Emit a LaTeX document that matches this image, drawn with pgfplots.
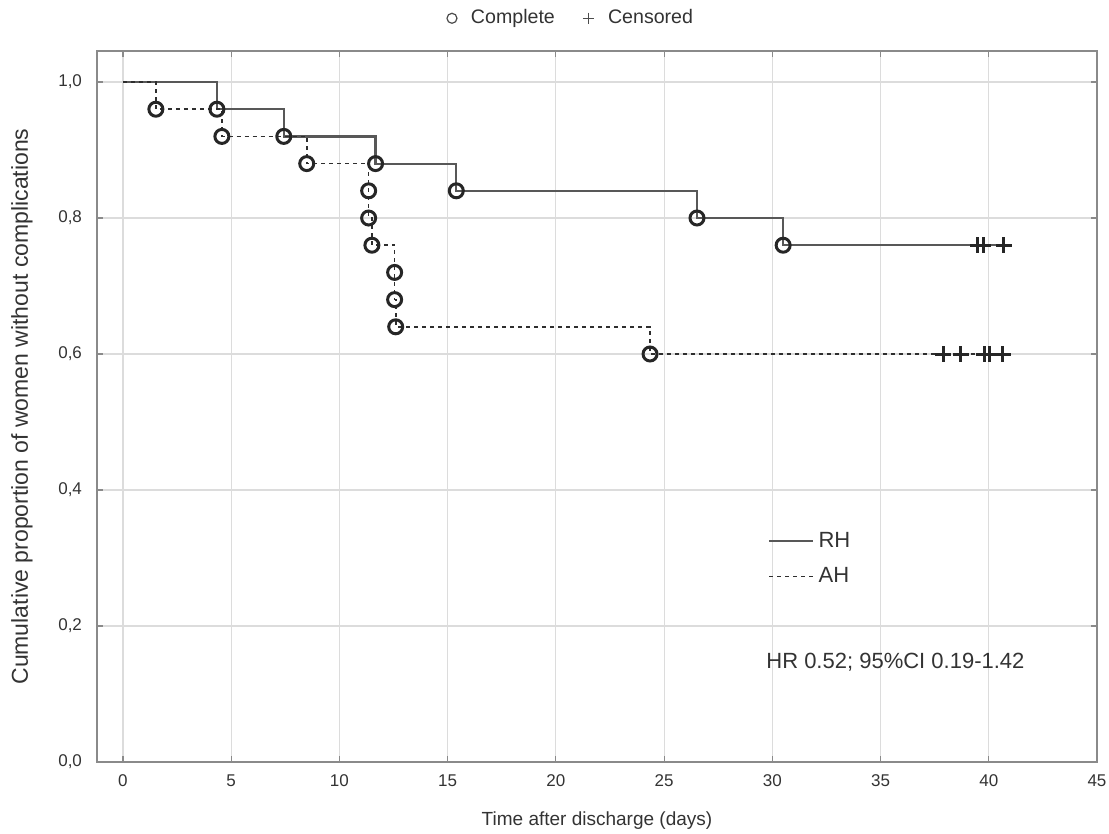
\documentclass[border=0pt]{standalone}
\usepackage{fontspec}
\setmainfont{Liberation Sans}
\usepackage{pgfplots}
\pgfplotsset{compat=1.18}
\usetikzlibrary{calc}

\definecolor{txt}{HTML}{333333}
\definecolor{frame}{HTML}{8A8A8A}
\definecolor{gridc}{HTML}{DCDCDC}
\definecolor{ln}{HTML}{2E2E2E}

\begin{document}
\begin{tikzpicture}
\begin{axis}[
  name=main,
  width=500pt, height=355.5pt, scale only axis,
  xmin=-1.2, xmax=45, ymin=0, ymax=1.0456,
  xtick={0,5,...,45}, ytick={0,0.2,...,1.0},
  grid=major, major grid style={gridc, line width=0.6pt},
  axis line style={frame, line width=1pt},
  tick style={frame, line width=0.6pt}, major tick length=3pt,
  tick align=inside,
  /pgf/number format/assume math mode=true,
  yticklabel style={xshift=-4pt, /pgf/number format/.cd, use comma, fixed, fixed zerofill, precision=1},
  xticklabel style={yshift=-3pt},
  ticklabel style={font=\fontsize{8.5}{10}\selectfont, text=txt},
  xlabel={Time after discharge (days)},
  ylabel={Cumulative proportion of women without complications},
  x label style={at={(axis description cs:0.5,-0.082)}, anchor=center, font=\fontsize{9.5}{11}\selectfont, text=txt},
  y label style={at={(axis description cs:-0.075,0.5)}, anchor=center, font=\fontsize{11.5}{13}\selectfont, text=txt},
  legend style={at={(rel axis cs:0.665,0.335)}, anchor=north west, draw=none, fill=none,
    font=\fontsize{11}{13}\selectfont, text=txt, row sep=4.5pt, cells={anchor=west}},
  legend cell align=left,
  legend image code/.code={\draw[#1] (0pt,0pt) -- (22pt,0pt);},
]
% RH (solid)
\addplot[const plot, ln!80, line width=1.1pt] coordinates {
  (0,1.0) (4.34,0.96) (7.43,0.92) (11.67,0.88) (15.4,0.84) (26.52,0.80) (30.5,0.76) (40.7,0.76)
};
\addlegendentry{RH}
% AH (dashed)
\addplot[const plot, ln, line width=0.8pt, dash pattern=on 2pt off 2pt] coordinates {
  (0,1.0) (1.52,0.96) (4.57,0.92) (8.49,0.88) (11.35,0.84) (11.35,0.80) (11.5,0.76)
  (12.55,0.72) (12.55,0.68) (12.6,0.64) (24.35,0.60) (40.7,0.60)
};
\addlegendentry{AH}
% complete events
\addplot[only marks, mark=o, mark size=3.5pt, mark options={line width=1.5pt, draw=black!85, fill=white}, forget plot] coordinates {
  (4.34,0.96) (7.43,0.92) (11.67,0.88) (15.4,0.84) (26.52,0.80) (30.5,0.76)
  (1.52,0.96) (4.57,0.92) (8.49,0.88) (11.35,0.84) (11.35,0.80) (11.5,0.76)
  (12.55,0.72) (12.55,0.68) (12.6,0.64) (24.35,0.60)
};
% censored
\addplot[only marks, mark=+, mark size=4pt, mark options={line width=1.5pt, draw=black!85}, forget plot] coordinates {
  (39.5,0.76) (39.75,0.76) (40.7,0.76)
  (37.9,0.60) (38.7,0.60) (39.8,0.60) (40.05,0.60) (40.65,0.60)
};
\node[anchor=west, text=txt, font=\fontsize{11}{13}\selectfont] at (axis cs:29.4,0.147) {HR 0.52; 95\%CI 0.19-1.42};
\coordinate (sw) at (rel axis cs:0,0);
\coordinate (ne) at (rel axis cs:1,1);
\end{axis}
% top legend
\begin{axis}[
  width=500pt, height=355.5pt, scale only axis, hide axis,
  xmin=0, xmax=1, ymin=0, ymax=1,
  legend style={at={(rel axis cs:0.475,1.046)}, anchor=center, draw=none, fill=none,
    font=\fontsize{9.8}{11}\selectfont, text=txt, legend columns=2,
    /tikz/every odd column/.append style={column sep=5pt},
    /tikz/every even column/.append style={column sep=12pt}},
]
\addlegendimage{only marks, mark=o, mark size=2.5pt, mark options={line width=0.6pt, draw=black!70}}
\addlegendentry{Complete}
\addlegendimage{only marks, mark=+, mark size=2.8pt, mark options={line width=0.6pt, draw=black!70}}
\addlegendentry{Censored}
\end{axis}
\pgfresetboundingbox
\path ($(sw)+(-48.5pt,-35.5pt)$) rectangle ($(ne)+(6pt,25.5pt)$);
\end{tikzpicture}
\end{document}
